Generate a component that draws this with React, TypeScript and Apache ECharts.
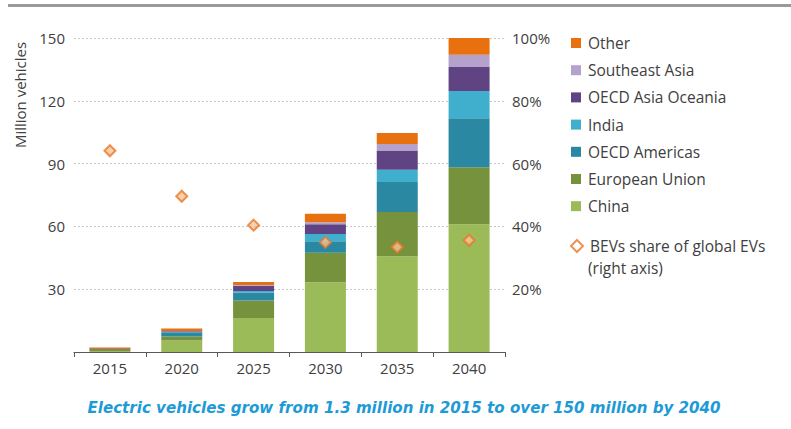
import React, { useEffect, useRef } from "react";
import * as echarts from "echarts";

const years = ["2015", "2020", "2025", "2030", "2035", "2040"];
const china = [0.5, 5.5, 16.3, 33.3, 45.7, 61];
const europeanUnion = [0.4, 1.9, 8.3, 14.1, 21.2, 27.3];
const oecdAmericas = [0.4, 2.0, 3.7, 5.5, 14.3, 23.4];
const india = [0.02, 0.2, 0.8, 3.5, 5.9, 13];
const oecdAsiaOceania = [0.1, 0.3, 2.6, 4.6, 9.1, 11.4];
const southeastAsia = [0.02, 0.1, 0.3, 1.0, 3.2, 5.9];
const other = [0.7, 1.2, 1.4, 4.1, 5.2, 8.4];
const bevShare = [64.1, 49.6, 40.4, 34.9, 33.4, 35.6];

const leftTicks = { min: 0, max: 150, interval: 30 };
const rightTicks = { min: 0, max: 100, interval: 20 };

const FONT = "'Open Sans', sans-serif";
const TEXT = "#404040";

export default function App() {
  const ref = useRef<HTMLDivElement>(null);
  useEffect(() => {
    document.body.style.margin = "0";
    if (!ref.current) return;
    const chart = echarts.init(ref.current, undefined, { renderer: "svg" });
    const barSeries = [
      { name: "China", data: china, color: "#9BBB59" },
      { name: "European Union", data: europeanUnion, color: "#76923C" },
      { name: "OECD Americas", data: oecdAmericas, color: "#2B88A2" },
      { name: "India", data: india, color: "#40AFCE" },
      { name: "OECD Asia Oceania", data: oecdAsiaOceania, color: "#5F4383" },
      { name: "Southeast Asia", data: southeastAsia, color: "#B4A2CC" },
      { name: "Other", data: other, color: "#E8700E" },
    ].map((s) => ({
      name: s.name,
      type: "bar",
      stack: "total",
      barWidth: 41,
      data: s.data,
      itemStyle: { color: s.color },
      emphasis: { disabled: true },
    }));
    const bevName = "BEVs share of global EVs";
    const legendText = {
      fontFamily: FONT,
      fontSize: 15.5,
      color: TEXT,
      lineHeight: 15,
      padding: [0, 0, 0, 2],
    };
    chart.setOption({
      animation: false,
      backgroundColor: "#ffffff",
      textStyle: { fontFamily: FONT },
      grid: { left: 74, right: 286, top: 38, bottom: 77 },
      legend: [
        {
          orient: "vertical",
          left: 566,
          top: 30,
          itemWidth: 10,
          itemHeight: 10,
          itemGap: 11.2,
          icon: "rect",
          textStyle: legendText,
          data: [
            "Other",
            "Southeast Asia",
            "OECD Asia Oceania",
            "India",
            "OECD Americas",
            "European Union",
            "China",
          ],
        },
        {
          orient: "vertical",
          left: 565,
          top: 233,
          itemWidth: 12,
          itemHeight: 12,
          textStyle: legendText,
          data: [
            {
              name: bevName,
              icon: "diamond",
              itemStyle: { color: "#ffffff", borderColor: "#E8782B", borderWidth: 2 },
            },
          ],
        },
      ],
      xAxis: {
        type: "category",
        data: years,
        axisLine: { lineStyle: { color: "#595959", width: 1 } },
        axisTick: { show: true, length: 5, lineStyle: { color: "#595959" } },
        axisLabel: { fontFamily: FONT, fontSize: 15, color: TEXT, margin: 8 },
      },
      yAxis: [
        {
          type: "value",
          ...leftTicks,
          axisLine: { show: false },
          axisTick: { show: false },
          axisLabel: {
            fontFamily: FONT,
            fontSize: 15,
            color: TEXT,
            margin: 9,
            showMinLabel: false,
          },
          splitLine: { lineStyle: { color: "#c8c8c8", type: [2, 2], width: 1 } },
        },
        {
          type: "value",
          ...rightTicks,
          axisLine: { show: false },
          axisTick: { show: false },
          axisLabel: {
            fontFamily: FONT,
            fontSize: 15,
            color: TEXT,
            margin: 7,
            showMinLabel: false,
            formatter: "{value}%",
          },
          splitLine: { show: false },
        },
      ],
      graphic: [
        {
          type: "rect",
          shape: { x: 8, y: 4, width: 783, height: 3 },
          style: { fill: "#9a9a9a" },
        },
        {
          type: "text",
          x: 20,
          y: 95,
          rotation: Math.PI / 2,
          style: {
            text: "Million vehicles",
            fontFamily: FONT,
            fontSize: 15,
            fill: TEXT,
            align: "center",
            verticalAlign: "middle",
          },
        },
        {
          type: "text",
          x: 588,
          y: 268,
          style: {
            text: "(right axis)",
            fontFamily: FONT,
            fontSize: 15.5,
            fill: TEXT,
            align: "left",
            verticalAlign: "middle",
          },
        },
        {
          type: "text",
          x: 404,
          y: 408,
          style: {
            text: "Electric vehicles grow from 1.3 million in 2015 to over 150 million by 2040",
            fontFamily: "'DejaVu Sans', sans-serif",
            fontSize: 15.1,
            fontStyle: "italic",
            fontWeight: "bold",
            fill: "#1E9AD6",
            align: "center",
            verticalAlign: "middle",
          },
        },
      ],
      series: [
        ...barSeries,
        {
          name: bevName,
          type: "scatter",
          yAxisIndex: 1,
          symbol: "diamond",
          symbolSize: 11,
          data: bevShare,
          itemStyle: { color: "#F8C397", borderColor: "#E8782B", borderWidth: 2 },
          emphasis: { disabled: true },
          z: 5,
        },
      ],
    });
    return () => chart.dispose();
  }, []);
  return (
    <div
      ref={ref}
      style={{ position: "absolute", left: 0, top: 0, width: 791, height: 429 }}
    />
  );
}
